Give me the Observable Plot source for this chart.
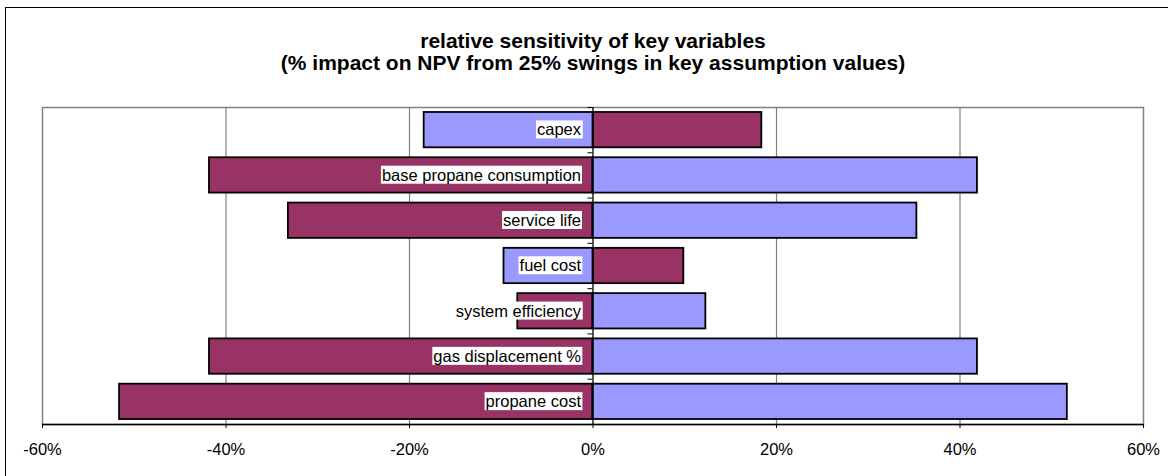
<!DOCTYPE html>
<html><head><meta charset="utf-8">
<script src="https://cdn.jsdelivr.net/npm/d3@7"></script>
<script src="https://cdn.jsdelivr.net/npm/@observablehq/plot@0.6"></script>
<style>
body{margin:0;background:#fff;}
#wrap{position:relative;width:1168px;height:476px;overflow:hidden;background:#fff;}
#border{position:absolute;left:5px;top:7px;width:1300px;height:600px;border-left:1.5px solid #000;border-top:1.5px solid #000;pointer-events:none;}
</style></head><body>
<div id="wrap"><div id="chart"></div><div id="border"></div></div>
<script>
const categories = ["capex","base propane consumption","service life","fuel cost","system efficiency","gas displacement %","propane cost"];
const series1 = [18.4, -41.8, -33.2, 9.9, -8.2, -41.8, -51.6];   // maroon
const series2 = [-18.4, 41.9, 35.3, -9.7, 12.3, 41.9, 51.7];     // periwinkle
const seriesNames = ["series 1", "series 2"];
const seriesColors = ["#993366", "#9999FF"];
const xTicks = [-60, -40, -20, 0, 20, 40, 60];
const gridTicks = [-40, -20, 20, 40];
const titleLine1 = ["relative sensitivity of key variables"];
const titleLine2 = ["(% impact on NPV from 25% swings in key assumption values)"];

const rows = categories.flatMap((c, i) => [
  {category: c, i, series: seriesNames[0], value: series1[i]},
  {category: c, i, series: seriesNames[1], value: series2[i]}
]);
const boundaries = d3.range(categories.length + 1);

const plot = Plot.plot({
  width: 1168, height: 476,
  marginLeft: 42, marginRight: 25, marginTop: 107, marginBottom: 52,
  style: {fontFamily: "'Liberation Sans', Arial, sans-serif", fontSize: "16.5px", background: "#fff", color: "#000", overflow: "visible"},
  x: {domain: [-60, 60], axis: null},
  y: {domain: [0, categories.length], reverse: true, axis: null},
  color: {domain: seriesNames, range: seriesColors},
  marks: [
    Plot.frame({stroke: "#808080", strokeWidth: 1.5}),
    Plot.ruleX(gridTicks, {stroke: "#808080", strokeWidth: 1.2}),
    Plot.rect(rows, {x1: () => 0, x2: "value", y1: d => d.i + 0.11, y2: d => d.i + 0.89, fill: "series", stroke: "#000", strokeWidth: 1.8}),
    Plot.ruleX([0], {stroke: "#000", strokeWidth: 1.3}),
    Plot.ruleY(boundaries, {x1: () => -0.55, x2: () => 0, stroke: "#000", strokeWidth: 1}),
    Plot.ruleY([categories.length], {stroke: "#000", strokeWidth: 1.5}),
    Plot.axisX({ticks: xTicks, tickFormat: d => d + "%", tickSize: 4, tickPadding: 15, fontSize: 16.5, stroke: "#000", fill: "#000", label: null}),
    Plot.text(categories, {x: () => 0, y: (d, i) => i + 0.5, text: d => d, textAnchor: "end", dx: -12, fill: "#000", fontSize: 16.5}),
    Plot.text(titleLine1, {frameAnchor: "top", lineAnchor: "middle", text: d => d, dy: -66, fontWeight: "bold", fontSize: 21, fill: "#000"}),
    Plot.text(titleLine2, {frameAnchor: "top", lineAnchor: "middle", text: d => d, dy: -44, fontWeight: "bold", fontSize: 21, fill: "#000"})
  ]
});
document.getElementById("chart").appendChild(plot);

// white box behind each category label
const catSet = new Set(categories);
Array.from(plot.querySelectorAll("text")).filter(t => catSet.has(t.textContent)).forEach(t => {
  const b = t.getBBox();
  const r = document.createElementNS("http://www.w3.org/2000/svg", "rect");
  r.setAttribute("x", b.x - 1);
  r.setAttribute("y", b.y);
  r.setAttribute("width", b.width + 2);
  r.setAttribute("height", b.height);
  r.setAttribute("fill", "#fff");
  const tr = t.getAttribute("transform");
  if (tr) r.setAttribute("transform", tr);
  t.parentNode.insertBefore(r, t);
});
</script>
</body></html>
